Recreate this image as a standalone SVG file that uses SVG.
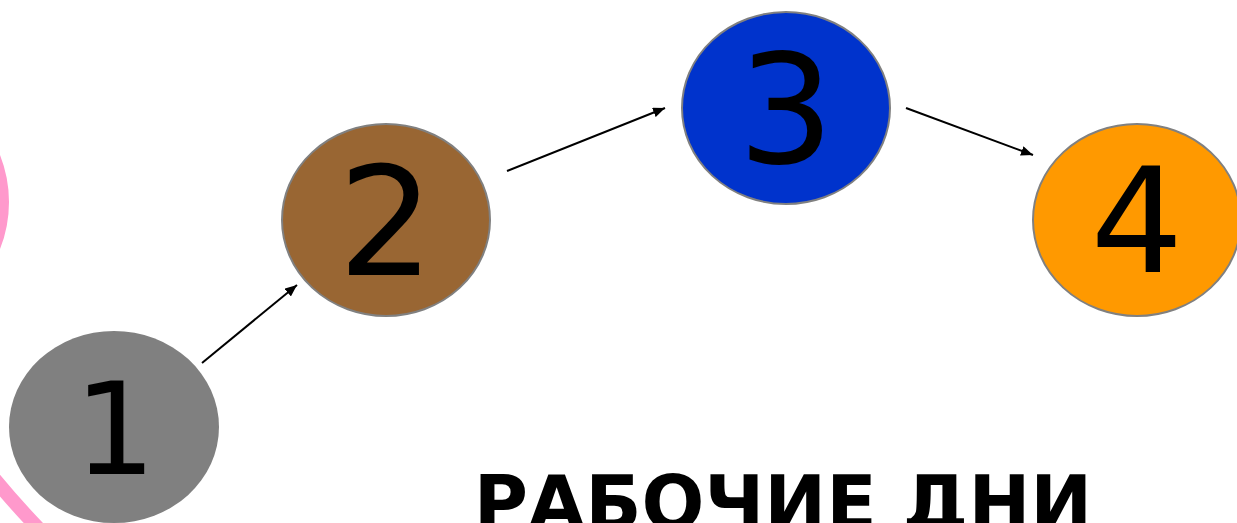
<svg xmlns="http://www.w3.org/2000/svg" width="1237" height="523" viewBox="0 0 1237 523">
<style>
.node{stroke:#808080;stroke-width:2}
.num{font-family:"DejaVu Sans",sans-serif;fill:#000;text-anchor:middle}
.conn{stroke:#000;stroke-width:2;fill:none;marker-end:url(#arr)}
.pink{fill:none;stroke:#FF99CC}
</style>
<defs>
<marker id="arr" markerUnits="userSpaceOnUse" markerWidth="12" markerHeight="10" refX="12" refY="5" orient="auto">
<path d="M0,0 L12,5 L0,10 z" fill="#000"/>
</marker>
</defs>
<rect width="1237" height="523" fill="#fff"/>
<g id="decor">
<circle class="pink" cx="-119" cy="202" r="122" stroke-width="12"/>
<path class="pink" d="M-8,476 Q14,503 40,530" stroke-width="14"/>
</g>
<g id="connectors">
<line class="conn" x1="202" y1="363" x2="297" y2="285"/>
<line class="conn" x1="507" y1="171" x2="665" y2="108"/>
<line class="conn" x1="906" y1="108" x2="1033" y2="155"/>
</g>
<g id="node1">
<ellipse cx="114" cy="427" rx="105" ry="96" fill="#808080"/>
<text class="num" x="115" y="474" font-size="129">1</text>
</g>
<g id="node2">
<ellipse class="node" cx="386" cy="220" rx="104" ry="96" fill="#996633"/>
<text class="num" x="386" y="275" font-size="151">2</text>
</g>
<g id="node3">
<ellipse class="node" cx="786" cy="108" rx="104" ry="96" fill="#0033CC"/>
<text class="num" x="786" y="163" font-size="151">3</text>
</g>
<g id="node4">
<ellipse class="node" cx="1137" cy="220" rx="104" ry="96" fill="#FF9900"/>
<text class="num" x="1137" y="272" font-size="146">4</text>
</g>
<g id="title">
<text x="783" y="529" font-family="DejaVu Sans,sans-serif" font-weight="bold" font-size="74" text-anchor="middle" fill="#000">РАБОЧИЕ ДНИ</text>
</g>
</svg>
